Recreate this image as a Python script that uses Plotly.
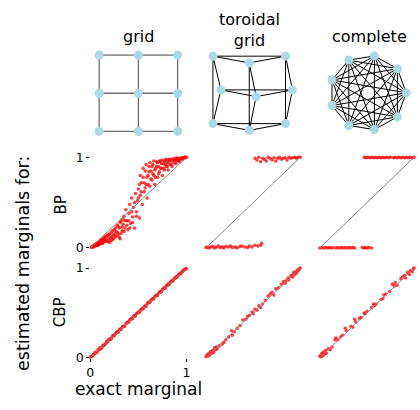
import itertools
import plotly.graph_objects as go

W, H = 420, 410
FONT = "DejaVu Sans"

# ---- graph drawings (node layouts) ----
grid_x = [0, 1, 2, 0, 1, 2, 0, 1, 2]
grid_y = [2, 2, 2, 1, 1, 1, 0, 0, 0]
grid_edges = [(0, 1), (1, 2), (3, 4), (4, 5), (6, 7), (7, 8),
              (0, 3), (3, 6), (1, 4), (4, 7), (2, 5), (5, 8)]

torus_x = [-1.0, 0.0, 1.0, -0.78, 0.19, 1.19, -1.0, 0.0, 1.0]
torus_y = [1.0, 0.8, 1.0, 0.0, -0.2, 0.0, -1.0, -1.2, -1.0]
torus_edges = grid_edges + [(0, 2), (3, 5), (6, 8), (0, 6), (1, 7), (2, 8)]

complete_x = [1.0, 0.77, 0.17, -0.5, -0.94, -0.94, -0.5, 0.17, 0.77]
complete_y = [0.0, 0.64, 0.98, 0.87, 0.34, -0.34, -0.87, -0.98, -0.64]
complete_edges = list(itertools.combinations(range(9), 2))

titles = ["grid", "toroidal<br>grid", "complete"]
row_labels = ["BP", "CBP"]

# ---- marginals: exact (x) vs estimated (y) ----
bp_grid_x = [0.01, 0.02, 0.03, 0.04, 0.05, 0.05, 0.06, 0.07, 0.08, 0.09, 0.10, 0.10, 0.11, 0.12,
             0.13, 0.14, 0.15, 0.16, 0.17, 0.18, 0.19, 0.20, 0.20, 0.21, 0.22, 0.23, 0.24, 0.25,
             0.26, 0.27, 0.28, 0.29, 0.30, 0.31, 0.32, 0.33, 0.34, 0.35, 0.36, 0.37, 0.38, 0.39,
             0.40, 0.41, 0.42, 0.43, 0.44, 0.45, 0.46, 0.47, 0.48, 0.49, 0.50, 0.51, 0.52, 0.53,
             0.54, 0.55, 0.56, 0.57, 0.58, 0.59, 0.60, 0.61, 0.62, 0.63, 0.64, 0.65, 0.66, 0.67,
             0.68, 0.69, 0.70, 0.71, 0.72, 0.73, 0.74, 0.75, 0.76, 0.77, 0.78, 0.79, 0.80, 0.81,
             0.82, 0.83, 0.84, 0.85, 0.86, 0.87, 0.88, 0.89, 0.90, 0.91, 0.92, 0.93, 0.94, 0.95,
             0.96, 0.97, 0.98, 0.99, 1.0,
             0.02, 0.03, 0.04, 0.06, 0.07, 0.08, 0.09, 0.11, 0.12, 0.13, 0.14, 0.15, 0.16, 0.17,
             0.18, 0.19, 0.21, 0.22, 0.23, 0.24, 0.25, 0.26, 0.27, 0.28, 0.29, 0.30, 0.31, 0.32,
             0.33, 0.34, 0.35, 0.36, 0.38, 0.40, 0.41, 0.43, 0.44, 0.46, 0.48, 0.50,
             0.51, 0.52, 0.53, 0.55, 0.56, 0.57, 0.58, 0.59, 0.60, 0.61, 0.62, 0.63, 0.64, 0.65,
             0.66, 0.67, 0.68, 0.69, 0.70, 0.71, 0.72, 0.73, 0.74, 0.75, 0.76, 0.77, 0.78, 0.79,
             0.80, 0.81, 0.83, 0.84, 0.85, 0.87, 0.88, 0.89, 0.91, 0.92, 0.93, 0.95, 0.97, 0.99]
bp_grid_y = [0.005, 0.01, 0.01, 0.02, 0.02, 0.04, 0.03, 0.05, 0.03, 0.06, 0.04, 0.08, 0.06, 0.09,
             0.05, 0.10, 0.07, 0.12, 0.08, 0.13, 0.10, 0.06, 0.15, 0.11, 0.17, 0.09, 0.14, 0.20,
             0.12, 0.18, 0.25, 0.15, 0.22, 0.10, 0.30, 0.19, 0.26, 0.35, 0.22, 0.42, 0.30, 0.20,
             0.38, 0.48, 0.27, 0.55, 0.34, 0.45, 0.22, 0.60, 0.40, 0.52, 0.65, 0.33, 0.58, 0.72,
             0.48, 0.78, 0.62, 0.85, 0.70, 0.55, 0.80, 0.90, 0.68, 0.85, 0.75, 0.92, 0.80, 0.70,
             0.88, 0.95, 0.78, 0.90, 0.84, 0.96, 0.88, 0.80, 0.93, 0.86, 0.97, 0.90, 0.94, 0.86,
             0.98, 0.92, 0.96, 0.90, 0.98, 0.94, 0.97, 0.93, 0.99, 0.96, 0.98, 0.95, 0.99, 0.98,
             0.99, 0.985, 1.0, 0.995, 1.0,
             0.015, 0.02, 0.03, 0.045, 0.03, 0.06, 0.04, 0.09, 0.05, 0.10, 0.07, 0.12, 0.09, 0.14,
             0.07, 0.15, 0.08, 0.12, 0.19, 0.10, 0.15, 0.22, 0.13, 0.17, 0.24, 0.12, 0.28, 0.16,
             0.23, 0.32, 0.18, 0.30, 0.25, 0.30, 0.22, 0.40, 0.28, 0.50, 0.35, 0.55,
             0.70, 0.80, 0.62, 0.88, 0.72, 0.66, 0.92, 0.78, 0.70, 0.84, 0.94, 0.76, 0.90, 0.82,
             0.96, 0.86, 0.78, 0.90, 0.94, 0.82, 0.96, 0.88, 0.93, 0.97, 0.88, 0.95, 0.92, 0.98,
             0.90, 0.95, 0.97, 0.92, 0.98, 0.96, 0.99, 0.97, 0.99, 0.965, 0.99, 0.995, 0.995, 1.0]

bp_torus_x = [0.0, 0.01, 0.03, 0.05, 0.07, 0.09, 0.11, 0.13, 0.15, 0.17, 0.19, 0.21, 0.24, 0.26,
              0.28, 0.31, 0.33, 0.36, 0.38, 0.41, 0.44, 0.46, 0.49, 0.52, 0.55, 0.58, 0.59,
              0.52, 0.54, 0.56, 0.58, 0.60, 0.62, 0.64, 0.66, 0.68, 0.70, 0.72, 0.74, 0.76,
              0.78, 0.80, 0.82, 0.84, 0.86, 0.88, 0.90, 0.92, 0.94, 0.96, 0.98, 1.0]
bp_torus_y = [0.005, 0.01, 0.0, 0.01, 0.015, 0.0, 0.01, 0.02, 0.005, 0.01, 0.0, 0.015, 0.01, 0.02,
              0.005, 0.01, 0.0, 0.015, 0.02, 0.01, 0.005, 0.02, 0.01, 0.03, 0.02, 0.03, 0.05,
              0.99, 0.97, 1.0, 0.95, 0.99, 0.98, 0.96, 1.0, 0.99, 0.97, 0.995, 0.96, 0.99,
              1.0, 0.98, 0.99, 0.995, 0.97, 1.0, 0.99, 0.995, 1.0, 0.99, 1.0, 1.0]

bp_complete_x = [0.0, 0.02, 0.04, 0.06, 0.08, 0.10, 0.12, 0.14, 0.17, 0.19, 0.21, 0.23, 0.25,
                 0.27, 0.29, 0.31, 0.33, 0.35, 0.37, 0.45, 0.47, 0.48, 0.50, 0.52, 0.55,
                 0.47, 0.49, 0.51, 0.53, 0.55, 0.57, 0.59, 0.61, 0.63, 0.65, 0.67, 0.69, 0.71,
                 0.73, 0.75, 0.78, 0.80, 0.82, 0.84, 0.86, 0.88, 0.90, 0.92, 0.94, 0.96, 0.98, 1.0]
bp_complete_y = [0.0, 0.005, 0.0, 0.005, 0.0, 0.005, 0.0, 0.005, 0.0, 0.005, 0.0, 0.005, 0.0,
                 0.005, 0.0, 0.005, 0.0, 0.005, 0.0, 0.005, 0.0, 0.005, 0.0, 0.005, 0.0,
                 1.0, 0.995, 1.0, 0.995, 1.0, 0.995, 1.0, 0.995, 1.0, 0.995, 1.0, 0.995, 1.0,
                 0.995, 1.0, 0.995, 1.0, 0.995, 1.0, 0.995, 1.0, 0.995, 1.0, 0.995, 1.0, 0.995, 1.0]

cbp_grid_x = [0.0, 0.01, 0.02, 0.03, 0.04, 0.05, 0.06, 0.08, 0.09, 0.1, 0.12, 0.13, 0.15, 0.17,
              0.18, 0.2, 0.22, 0.24, 0.25, 0.27, 0.29, 0.3, 0.32, 0.34, 0.36, 0.38, 0.4, 0.42,
              0.44, 0.45, 0.47, 0.49, 0.51, 0.53, 0.55, 0.57, 0.58, 0.6, 0.62, 0.64, 0.66, 0.68,
              0.7, 0.72, 0.74, 0.76, 0.78, 0.8, 0.82, 0.84, 0.86, 0.88, 0.9, 0.92, 0.94, 0.96,
              0.98, 1.0,
              0.07, 0.11, 0.14, 0.16, 0.19, 0.21, 0.23, 0.26, 0.28, 0.31, 0.33, 0.35, 0.37, 0.39,
              0.41, 0.43, 0.46, 0.48, 0.5, 0.52, 0.54, 0.56, 0.59, 0.61, 0.63, 0.65, 0.67, 0.69,
              0.71, 0.73, 0.75, 0.77, 0.79, 0.81, 0.83, 0.85, 0.87, 0.89, 0.91, 0.93, 0.95, 0.97,
              0.99]
cbp_grid_y = [0.005, 0.015, 0.015, 0.035, 0.04, 0.06, 0.055, 0.09, 0.085, 0.11, 0.115, 0.14,
              0.145, 0.18, 0.175, 0.21, 0.215, 0.25, 0.245, 0.28, 0.285, 0.31, 0.315, 0.35,
              0.355, 0.39, 0.395, 0.43, 0.435, 0.46, 0.465, 0.5, 0.505, 0.54, 0.545, 0.58,
              0.575, 0.61, 0.615, 0.65, 0.655, 0.69, 0.695, 0.73, 0.735, 0.77, 0.775, 0.81,
              0.815, 0.85, 0.855, 0.89, 0.895, 0.93, 0.935, 0.965, 0.985, 0.995,
              0.065, 0.1, 0.135, 0.16, 0.2, 0.205, 0.24, 0.265, 0.29, 0.32, 0.34, 0.345, 0.38,
              0.4, 0.42, 0.44, 0.47, 0.49, 0.51, 0.525, 0.55, 0.565, 0.6, 0.62, 0.64, 0.66,
              0.68, 0.7, 0.72, 0.74, 0.76, 0.78, 0.8, 0.82, 0.84, 0.86, 0.875, 0.9, 0.915,
              0.94, 0.955, 0.975, 0.99]

cbp_torus_x = [0.0, 0.01, 0.02, 0.03, 0.04, 0.05, 0.06, 0.07, 0.08, 0.09, 0.1, 0.11, 0.12, 0.14,
               0.17, 0.19, 0.21, 0.24, 0.27, 0.28, 0.3, 0.33, 0.36, 0.39, 0.42, 0.44, 0.46, 0.49,
               0.5, 0.52, 0.54, 0.56, 0.58, 0.6, 0.63, 0.66, 0.68, 0.7, 0.72, 0.74, 0.77, 0.8,
               0.82, 0.84, 0.85, 0.87, 0.88, 0.9, 0.91, 0.92, 0.93, 0.94, 0.95, 0.96, 0.97, 0.98,
               0.99, 1.0]
cbp_torus_y = [0.01, 0.03, 0.02, 0.05, 0.03, 0.07, 0.05, 0.08, 0.06, 0.11, 0.09, 0.12, 0.10,
               0.13, 0.15, 0.17, 0.2, 0.23, 0.3, 0.25, 0.29, 0.33, 0.36, 0.42, 0.43, 0.46, 0.47,
               0.51, 0.49, 0.54, 0.53, 0.58, 0.56, 0.6, 0.64, 0.69, 0.71, 0.73, 0.7, 0.77, 0.78,
               0.82, 0.85, 0.83, 0.86, 0.89, 0.87, 0.91, 0.92, 0.9, 0.95, 0.93, 0.96, 0.94, 0.98,
               0.97, 0.99, 1.0]

cbp_complete_x = [0.0, 0.01, 0.02, 0.03, 0.04, 0.05, 0.06, 0.07, 0.09, 0.11, 0.13, 0.16, 0.17,
                  0.19, 0.22, 0.24, 0.27, 0.28, 0.33, 0.35, 0.37, 0.38, 0.42, 0.44, 0.47, 0.48,
                  0.5, 0.55, 0.57, 0.58, 0.6, 0.65, 0.67, 0.68, 0.7, 0.74, 0.77, 0.79, 0.8, 0.82,
                  0.86, 0.88, 0.9, 0.91, 0.93, 0.95, 0.96, 0.98, 0.99, 1.0]
cbp_complete_y = [0.02, 0.01, 0.05, 0.02, 0.06, 0.04, 0.08, 0.05, 0.1, 0.09, 0.12, 0.2, 0.22,
                  0.2, 0.23, 0.25, 0.33, 0.3, 0.35, 0.34, 0.43, 0.4, 0.44, 0.45, 0.5, 0.49, 0.52,
                  0.56, 0.6, 0.58, 0.6, 0.65, 0.66, 0.7, 0.71, 0.74, 0.82, 0.8, 0.84, 0.81, 0.88,
                  0.9, 0.92, 0.89, 0.95, 0.93, 0.97, 0.96, 0.99, 1.0]


def hdom(a, b):
    return [a / W, b / W]


def vdom(top, bottom):
    return [1 - bottom / H, 1 - top / H]


fig = go.Figure()
layout = {}

# graph drawings
graphs = [
    (grid_x, grid_y, grid_edges, "#6e6e6e", 1.3, hdom(87, 187), vdom(39, 138), [-0.25, 2.25], [-0.25, 2.25]),
    (torus_x, torus_y, torus_edges, "black", 1.0, hdom(194.5, 305.5), vdom(32.5, 137.5), [-1.5, 1.5], [-1.5, 1.5]),
    (complete_x, complete_y, complete_edges, "black", 1.0, hdom(324.2, 417.8), vdom(41.2, 134.8), [-1.2, 1.2], [-1.2, 1.2]),
]
for i, (gx, gy, edges, ecol, ew, xd, yd, xr, yr) in enumerate(graphs):
    n = i + 7
    ex, ey = [], []
    for a, b in edges:
        ex += [gx[a], gx[b], None]
        ey += [gy[a], gy[b], None]
    fig.add_trace(go.Scatter(x=ex, y=ey, mode="lines", line=dict(color=ecol, width=ew),
                             xaxis=f"x{n}", yaxis=f"y{n}", hoverinfo="skip"))
    fig.add_trace(go.Scatter(x=gx, y=gy, mode="markers", cliponaxis=False,
                             marker=dict(color="#add8e6", size=9),
                             xaxis=f"x{n}", yaxis=f"y{n}"))
    blank = dict(visible=False, fixedrange=True)
    layout[f"xaxis{n}"] = dict(domain=xd, range=xr, **blank)
    layout[f"yaxis{n}"] = dict(domain=yd, range=yr, **blank)

# scatter panels
col_px = [(88, 186), (206, 302), (322, 418)]
row_px = [(155, 249), (270, 363)]
panels = [
    [(bp_grid_x, bp_grid_y), (bp_torus_x, bp_torus_y), (bp_complete_x, bp_complete_y)],
    [(cbp_grid_x, cbp_grid_y), (cbp_torus_x, cbp_torus_y), (cbp_complete_x, cbp_complete_y)],
]
n = 1
for r, row in enumerate(panels):
    for c, (px, py) in enumerate(row):
        xs = "" if n == 1 else str(n)
        fig.add_trace(go.Scatter(x=px, y=py, mode="markers", cliponaxis=False,
                                 marker=dict(color="red", size=3.5, opacity=0.75),
                                 xaxis=f"x{xs}", yaxis=f"y{xs}"))
        fig.add_trace(go.Scatter(x=[0, 1], y=[0, 1], mode="lines", cliponaxis=False,
                                 line=dict(color="#888888", width=1),
                                 xaxis=f"x{xs}", yaxis=f"y{xs}"))
        show_y = c == 0
        show_x = c == 0 and r == 1
        tick_font = dict(family=FONT, size=12.5, color="black")
        layout[f"xaxis{xs}"] = dict(
            domain=hdom(*col_px[c]), range=[0, 1], showgrid=False, zeroline=False,
            showline=False, tickvals=[0, 1] if show_x else [], ticks="outside" if show_x else "",
            ticklen=3, tickcolor="black", showticklabels=show_x, tickfont=tick_font,
            anchor=f"y{xs}", fixedrange=True)
        layout[f"yaxis{xs}"] = dict(
            domain=vdom(*row_px[r]), range=[0, 1], showgrid=False, zeroline=False,
            showline=False, tickvals=[0, 1] if show_y else [], ticks="outside" if show_y else "",
            ticklen=3, tickcolor="black", showticklabels=show_y, tickfont=tick_font,
            anchor=f"x{xs}", fixedrange=True)
        n += 1


def ann(text, x, y, size, angle=0):
    return dict(text=text, x=x / W, y=1 - y / H, xref="paper", yref="paper",
                showarrow=False, textangle=angle, xanchor="center", yanchor="middle",
                font=dict(family=FONT, size=size, color="black"))


annotations = [
    ann(titles[0], 137, 30, 16),
    ann(titles[1], 250, 23, 16),
    ann(titles[2], 373, 30, 16),
    ann(row_labels[0], 58, 204, 15, -90),
    ann(row_labels[1], 58, 316, 15, -90),
    ann("estimated marginals for:", 20, 265, 17.5, -90),
    ann("exact marginal", 137, 395, 17),
]

fig.update_layout(
    width=W, height=H, margin=dict(l=0, r=0, t=0, b=0),
    paper_bgcolor="white", plot_bgcolor="white", showlegend=False,
    hovermode=False, annotations=annotations, **layout,
)
fig.write_html("out.html", config={"displayModeBar": False},
               post_script="document.body.style.margin='0';")
